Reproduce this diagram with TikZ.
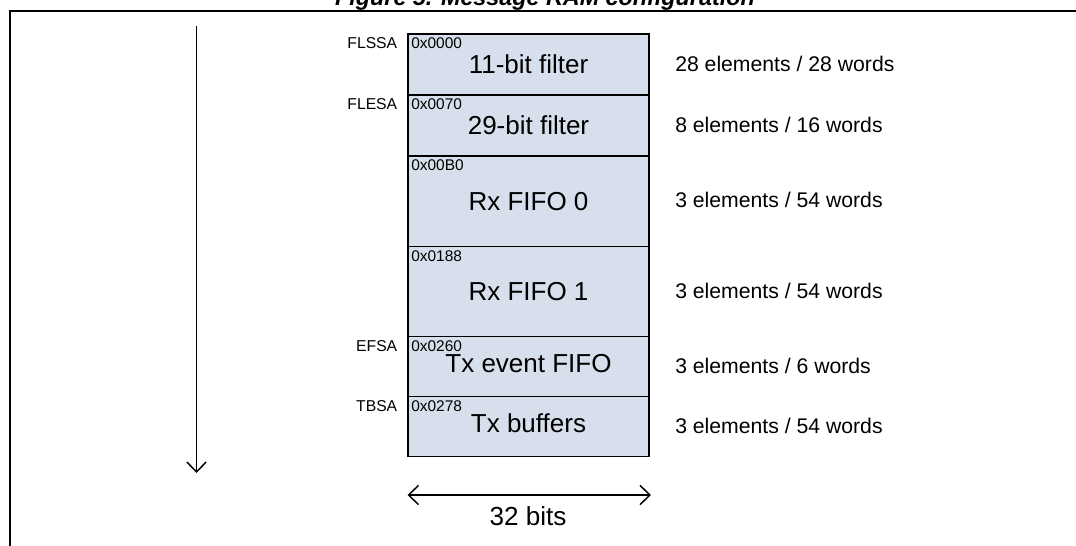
\documentclass[tikz,border=0pt]{standalone}
\usepackage{fontspec}
\setmainfont{Liberation Sans}
\usetikzlibrary{arrows.meta,calc}
\definecolor{boxfill}{RGB}{214,223,235}
\begin{document}
\begin{tikzpicture}[x=0.75pt,y=-0.75pt,
  blk/.style={draw=black, line width=1.1pt, fill=boxfill, anchor=north west,
    minimum width=241*0.75pt, inner sep=0pt, outer sep=0pt,
    font=\fontsize{19.5}{22}\selectfont, text height=14pt, text depth=0pt},
  hexl/.style={font=\fontsize{11.6}{13}\selectfont, inner sep=0pt, anchor=base west},
  tagl/.style={font=\fontsize{11.8}{13}\selectfont, inner sep=0pt, anchor=base east},
  rlab/.style={font=\fontsize{15.9}{18}\selectfont, inner sep=0pt, anchor=west,
    text height=11.4pt, text depth=0pt},
  tipv/.tip={Straight Barb[length=7.5pt,width=14.5pt,line width=1.1pt]},
  arr/.style={line width=1.1pt, -tipv},
  arrb/.style={line width=1.1pt, tipv-tipv},
  frameline/.style={line width=1.5pt}]
\useasboundingbox (0,0) rectangle (1076,546);
\clip (0,0) rectangle (1076,546);

% title (cut off by the top edge)
\node[font=\bfseries\itshape\fontsize{17.5}{20}\selectfont, anchor=base, inner sep=0pt] (title) at (545,6) {Figure 5. Message RAM configuration};

% frame
\coordinate (fr) at (1076,11);
\coordinate (fc) at (10,11);
\coordinate (fb) at (10,546);
\draw[frameline] (fr) -- (fc) -- (fb);

% memory blocks
\node[blk, minimum height=61*0.75pt]   (b1) at (408,34)    {11-bit filter};
\node[blk, minimum height=61*0.75pt]   (b2) at (408,95)    {29-bit filter};
\node[blk, minimum height=90.5*0.75pt] (b3) at (408,156)   {Rx FIFO 0};
\node[blk, minimum height=90*0.75pt]   (b4) at (408,246.5) {Rx FIFO 1};
\node[blk, minimum height=60*0.75pt, text depth=5pt] (b5) at (408,336.5) {Tx event FIFO};
\node[blk, minimum height=60*0.75pt, text depth=5pt] (b6) at (408,396.5) {Tx buffers};

% addresses
\node[hexl] (a1) at ($(b1.north west)+(3,14.5)$) {0x0000};
\node[hexl] (a2) at ($(b2.north west)+(3,14.5)$) {0x0070};
\node[hexl] (a3) at ($(b3.north west)+(3,14.5)$) {0x00B0};
\node[hexl] (a4) at ($(b4.north west)+(3,14.5)$) {0x0188};
\node[hexl] (a5) at ($(b5.north west)+(3,14.5)$) {0x0260};
\node[hexl] (a6) at ($(b6.north west)+(3,14.5)$) {0x0278};

% start address register names
\node[tagl] (t1) at ($(b1.north west)+(-10.5,14.8)$) {FLSSA};
\node[tagl] (t2) at ($(b2.north west)+(-10.5,14.8)$) {FLESA};
\node[tagl] (t5) at ($(b5.north west)+(-10.5,14.8)$) {EFSA};
\node[tagl] (t6) at ($(b6.north west)+(-10.5,14.8)$) {TBSA};

% sizes
\node[rlab] (r1) at ($(b1.east)+(26,-0.5)$) {28 elements / 28 words};
\node[rlab] (r2) at ($(b2.east)+(26,-1)$)   {8 elements / 16 words};
\node[rlab] (r3) at ($(b3.east)+(26,-1)$)   {3 elements / 54 words};
\node[rlab] (r4) at ($(b4.east)+(26,-1)$)   {3 elements / 54 words};
\node[rlab] (r5) at ($(b5.east)+(26,-0.5)$) {3 elements / 6 words};
\node[rlab] (r6) at ($(b6.east)+(26,-0.5)$) {3 elements / 54 words};

% address direction arrow
\coordinate (vt) at (196.5,26);
\coordinate (vb) at (196.5,473);
\draw[arr] (vt) -- (vb);

% width arrow
\coordinate (wl) at (407.5,495);
\coordinate (wr) at (651,495);
\draw[arrb] (wl) -- (wr);
\node[font=\fontsize{19.6}{22}\selectfont, inner sep=0pt, text height=14pt, text depth=0pt] (wlab) at (528,516) {32 bits};
\end{tikzpicture}
\end{document}
